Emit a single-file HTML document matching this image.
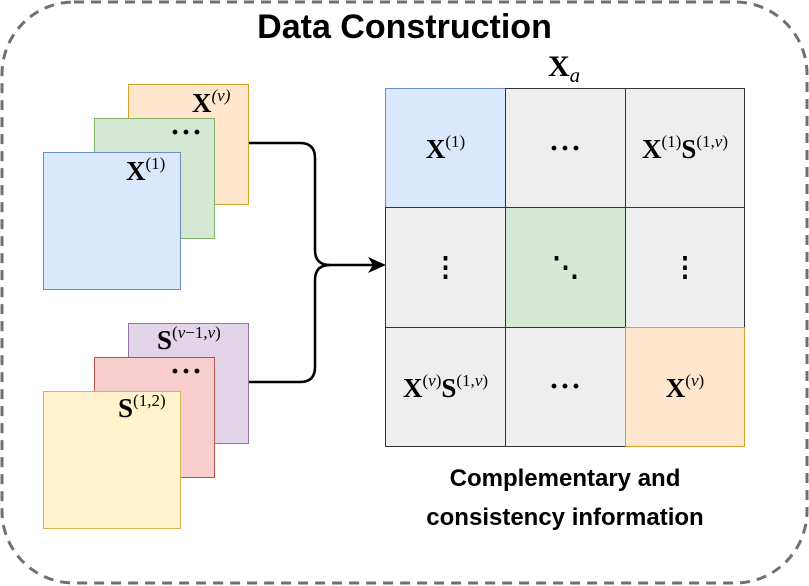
<!DOCTYPE html>
<html><head><meta charset="utf-8"><style>
body{margin:0;width:809px;height:586px;background:#fff;position:relative;overflow:hidden;font-family:"Liberation Serif",serif}
.r{position:absolute;box-sizing:border-box;border:1.5px solid}
.m{position:absolute;font-family:"Liberation Serif",serif;font-size:27px;color:#000;white-space:nowrap}
.m b{font-weight:bold}
.m sup{font-size:17px;font-weight:normal;vertical-align:11px}
.c{position:absolute;box-sizing:border-box;border:1.5px solid #333;display:flex;align-items:center;justify-content:center;font-size:27px}
.c sup{font-size:17px;vertical-align:11px}
.d{font-size:30px;font-weight:bold;letter-spacing:1px}
.t{position:absolute;font-family:"Liberation Sans",sans-serif;font-weight:bold;color:#000;text-align:center}
</style></head><body>
<svg width="809" height="586" style="position:absolute;left:0;top:0">
<rect x="2" y="2" width="805" height="581" rx="72" fill="none" stroke="#707070" stroke-width="3" stroke-dasharray="10,7"/>
<path d="M248 143 H300 Q315 143 315 158 V250 Q315 265 330 265 H376" fill="none" stroke="#000" stroke-width="2.5"/>
<path d="M248 382 H300 Q315 382 315 367 V280 Q315 265 330 265" fill="none" stroke="#000" stroke-width="2.5"/>
<path d="M386 265 L368 257 L373 265 L368 273 Z" fill="#000"/>
</svg>
<div class="t" style="left:0;width:809px;top:8px;font-size:34px">Data Construction</div>
<div class="r" style="left:128px;top:84px;width:121px;height:121px;background:#ffe6cc;border-color:#d6a02a"></div>
<div class="m" style="left:192px;top:86px"><b>X</b><sup><i>(v)</i></sup></div>
<div class="r" style="left:94px;top:118px;width:121px;height:121px;background:#d5e8d4;border-color:#82b366"></div>
<div class="m d" style="left:170px;top:116px">···</div>
<div class="r" style="left:43px;top:152px;width:138px;height:138px;background:#dae8fc;border-color:#6c8ebf"></div>
<div class="m" style="left:126px;top:154px"><b>X</b><sup>(1)</sup></div>
<div class="r" style="left:128px;top:323px;width:121px;height:121px;background:#e1d5e7;border-color:#9673a6"></div>
<div class="m" style="left:157px;top:323px"><b>S</b><sup>(<i>v</i>−1,<i>v</i>)</sup></div>
<div class="r" style="left:94px;top:357px;width:121px;height:121px;background:#f8cecc;border-color:#b85450"></div>
<div class="m d" style="left:170px;top:355px">···</div>
<div class="r" style="left:43px;top:391px;width:138px;height:138px;background:#fff2cc;border-color:#d6b656"></div>
<div class="m" style="left:118px;top:391px"><b>S</b><sup>(1,2)</sup></div>
<div class="m" style="left:548px;top:50px;font-size:30px"><b>X</b><i style="font-size:21px;vertical-align:-6px">a</i></div>
<div class="c" style="left:385px;top:88px;width:121px;height:121px;background:#dae8fc;border-color:#6c8ebf"><span><b>X</b><sup>(1)</sup></span></div>
<div class="c" style="left:505px;top:88px;width:121px;height:121px;background:#eeeeee"><span class="d">···</span></div>
<div class="c" style="left:625px;top:88px;width:120px;height:121px;background:#eeeeee"><span><b>X</b><sup>(1)</sup><b>S</b><sup>(1,<i>v</i>)</sup></span></div>
<div class="c" style="left:385px;top:207px;width:121px;height:121px;background:#eeeeee"><b>⋮</b></div>
<div class="c" style="left:505px;top:207px;width:121px;height:121px;background:#d5e8d4"><b>⋱</b></div>
<div class="c" style="left:625px;top:207px;width:120px;height:121px;background:#eeeeee"><b>⋮</b></div>
<div class="c" style="left:385px;top:327px;width:121px;height:120px;background:#eeeeee"><span><b>X</b><sup>(<i>v</i>)</sup><b>S</b><sup>(1,<i>v</i>)</sup></span></div>
<div class="c" style="left:505px;top:327px;width:121px;height:120px;background:#eeeeee"><span class="d">···</span></div>
<div class="c" style="left:625px;top:327px;width:120px;height:120px;background:#ffe6cc;border-color:#d6a02a"><span><b>X</b><sup>(<i>v</i>)</sup></span></div>
<div class="t" style="left:385px;width:360px;top:459px;font-size:24px;line-height:39px">Complementary and<br>consistency information</div>
</body></html>
